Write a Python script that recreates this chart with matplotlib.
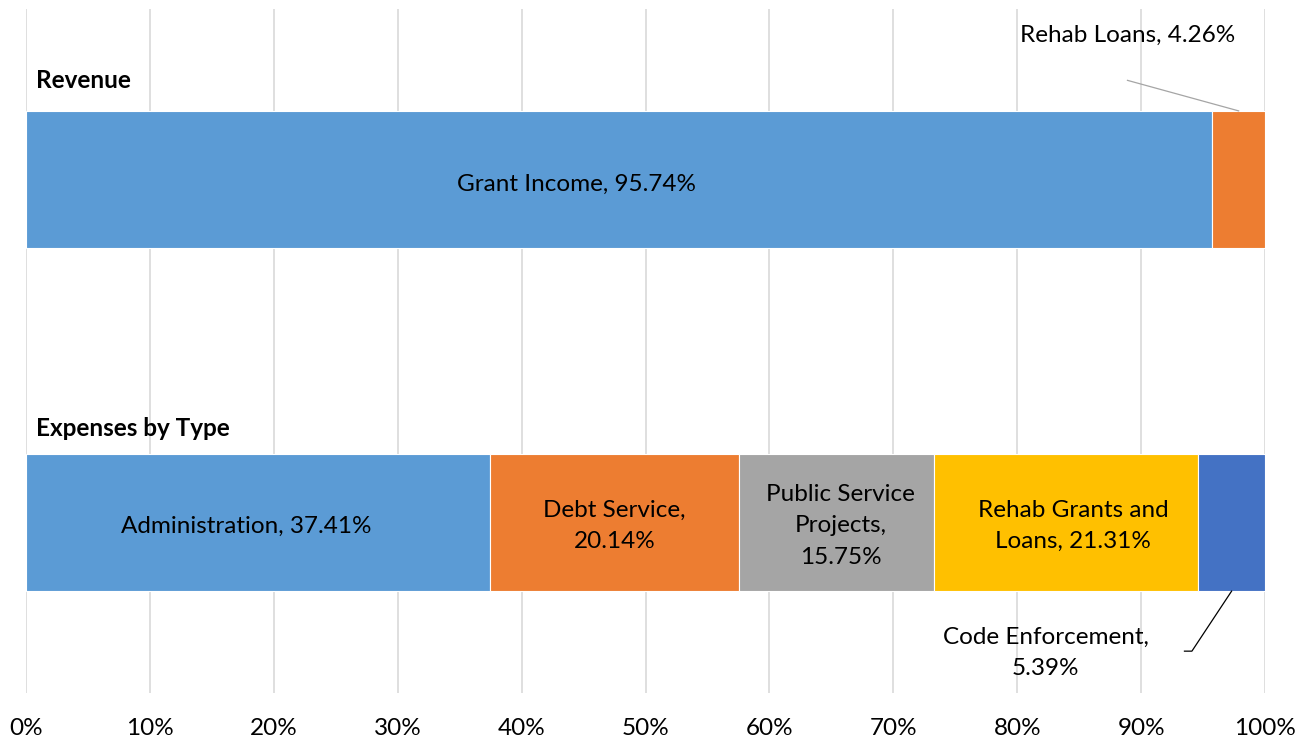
import matplotlib.pyplot as plt
import numpy as np

plt.rcParams['font.family'] = ['Lato', 'DejaVu Sans']

revenue_labels = ['Grant Income', 'Rehab Loans']
revenue_values = [95.74, 4.26]
expense_labels = ['Administration', 'Debt Service', 'Public Service\nProjects',
                  'Rehab Grants and\nLoans', 'Code Enforcement']
expense_values = [37.41, 20.14, 15.75, 21.31, 5.39]
revenue_colors = ['#5B9BD5', '#ED7D31']
expense_colors = ['#5B9BD5', '#ED7D31', '#A5A5A5', '#FFC000', '#4472C4']
ticks = np.arange(0, 101, 10)

fig = plt.figure(figsize=(13.07, 7.43), dpi=100)
ax = fig.add_axes([26/1307, 1-693/743, (1265-26)/1307, (693-9)/743])

def stack(y, values, colors):
    left = 0
    bars = []
    for v, c in zip(values, colors):
        ax.barh(y, v, left=left, height=0.4, color=c, edgecolor='white', linewidth=0.8, zorder=2)
        bars.append((left, v))
        left += v
    return bars

rev = stack(0, revenue_values, revenue_colors)
exp = stack(1, expense_values, expense_colors)

fs = 17.5
ls = 1.6
# labels inside the segments (nudged a bit, in points)
l, v = rev[0]
ax.annotate(f'{revenue_labels[0]}, {v:.2f}%', (l + v/2, 0.015), xytext=(-31, 0),
            textcoords='offset points', ha='center', va='center', fontsize=fs, zorder=3)
nudge = [-8, 0, 3, 5]
for i in range(4):
    l, v = exp[i]
    lab = expense_labels[i]
    if i in (1, 2):
        s = f'{lab},\n{v:.2f}%'
    else:
        s = f'{lab}, {v:.2f}%'
    ax.annotate(s, (l + v/2, 1.01), xytext=(nudge[i], 0), textcoords='offset points',
                ha='center', va='center', fontsize=fs, linespacing=ls, zorder=3)

# outside labels with leader lines
l, v = rev[1]
ax.text(88.9, -0.421, f'{revenue_labels[1]}, {v:.2f}%', ha='center', va='center', fontsize=fs)
ax.plot([88.9, l + v/2], [-0.289, -0.2], color='#A5A5A5', lw=0.9, zorder=3)
l, v = exp[4]
ax.text(82.3, 1.38, f'{expense_labels[4]},\n{v:.2f}%', ha='center', va='center', fontsize=fs, linespacing=ls)
ax.plot([93.5, 94.1, l + v/2], [1.375, 1.375, 1.2], color='black', lw=0.9, zorder=3)

# group titles
ax.text(0.8, -0.29, 'Revenue', ha='left', va='center', fontsize=fs, fontweight='bold')
ax.text(0.8, 0.727, 'Expenses by Type', ha='left', va='center', fontsize=fs, fontweight='bold')

ax.set_xlim(0, 100)
ax.set_ylim(1.497, -0.497)
ax.set_xticks(ticks)
ax.set_xticklabels([f'{t}%' for t in ticks], fontsize=fs)
ax.set_yticks([])
ax.tick_params(axis='x', length=0, pad=18)
ax.grid(axis='x', color='#D9D9D9', lw=1.2, zorder=0)
for s in ax.spines.values():
    s.set_visible(False)

fig.savefig('out.png', dpi=100)
